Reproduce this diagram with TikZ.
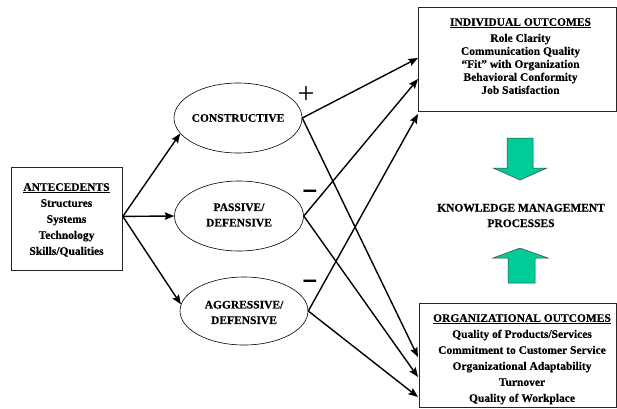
\documentclass[tikz,border=0pt]{standalone}
\usepackage{fontspec}
\setmainfont{Liberation Serif}[BoldFeatures={FakeBold=0.4}]
\newfontfamily\signfont{DejaVu Sans}
\usetikzlibrary{arrows.meta,shapes.geometric}
\definecolor{kmgreen}{RGB}{0,204,153}
\begin{document}
\begin{tikzpicture}[x=1pt,y=-1pt,
  txtA/.style={font=\fontsize{11.5}{16}\selectfont\bfseries, align=center, inner sep=0pt},
  txtB/.style={font=\fontsize{11.5}{13}\selectfont\bfseries, align=center, inner sep=0pt},
  txtE/.style={font=\fontsize{11.5}{15.5}\selectfont\bfseries, align=center, inner sep=0pt},
  box/.style={draw=black!85, line width=0.8pt, inner sep=0pt, anchor=north west},
  oval/.style={draw, ellipse, line width=0.6pt, inner sep=0pt},
  conn/.style={line width=1.4pt, -{Stealth[length=9.5pt,width=7.5pt,inset=1.5pt]}},
  bigarrow/.style={fill=kmgreen, draw=black!75, line width=0.5pt},
  sign/.style={inner sep=0pt},
  minussign/.style={sign, xscale=1.7, font=\signfont\fontsize{19}{19}\selectfont\bfseries}]
\useasboundingbox (0,0) rectangle (617,408);

% boxes
\node[box, minimum width=111, minimum height=103] (ante) at (11,167) {};
\node[txtA, anchor=north] (anteT) at (66.5,183) {\underline{ANTECEDENTS}\\Structures\\Systems\\Technology\\Skills/Qualities};

\node[box, minimum width=198, minimum height=104] (ind) at (418,7) {};
\node[txtB, anchor=north] (indT) at (520.5,18) {\underline{INDIVIDUAL OUTCOMES}\\[3pt]Role Clarity\\Communication Quality\\“Fit” with Organization\\Behavioral Conformity\\Job Satisfaction};

\node[box, minimum width=197, minimum height=104] (org) at (419,303) {};
\node[txtA, anchor=north] (orgT) at (522,314) {\underline{ORGANIZATIONAL OUTCOMES}\\Quality of Products/Services\\Commitment to Customer Service\\Organizational Adaptability\\Turnover\\Quality of Workplace};

% ellipses
\node[oval, minimum width=128, minimum height=70] (cons) at (238,118) {};
\node[txtE] (consT) at (cons.center) {CONSTRUCTIVE};
\node[oval, minimum width=129, minimum height=70] (pass) at (239,216) {};
\node[txtE] (passT) at (239,215) {PASSIVE/\\DEFENSIVE};
\node[oval, minimum width=128, minimum height=68] (aggr) at (244,311) {};
\node[txtE] (aggrT) at (244,312.5) {AGGRESSIVE/\\DEFENSIVE};

% KM text
\node[txtE] (km) at (521,215.5) {KNOWLEDGE MANAGEMENT\\PROCESSES};

% green arrows
\draw[bigarrow] (507,138) -- (533,138) -- (533,168) -- (547,168) -- (520,180) -- (493,168) -- (507,168) -- cycle;
\draw[bigarrow] (520,248) -- (548,258) -- (535,258) -- (535,283) -- (508,283) -- (508,258) -- (493,258) -- cycle;

% signs
\node[sign, font=\fontsize{30}{30}\selectfont] (plus) at (306,95) {+};
\node[minussign] (minus1) at (310,193) {–};
\node[minussign] (minus2) at (310,283) {–};

% target coordinates
\coordinate (i1) at (418,58);
\coordinate (i2) at (418,79);
\coordinate (i3) at (418,114);
\coordinate (o1) at (418,357);
\coordinate (o2) at (418,377);
\coordinate (o3) at (418,397);

% connectors
\draw[conn] ([yshift=2.5pt]ante.east) -- (cons.195);
\draw[conn] ([yshift=2.5pt]ante.east) -- (pass.west);
\draw[conn] ([yshift=2.5pt]ante.east) -- (aggr.174);

\draw[conn] (cons.east) -- (i1);
\draw[conn] (cons.east) -- (o1);
\draw[conn] (pass.east) -- (i2);
\draw[conn] (pass.east) -- (o2);
\draw[conn] (aggr.east) -- (i3);
\draw[conn] (aggr.east) -- (o3);
\end{tikzpicture}
\end{document}
